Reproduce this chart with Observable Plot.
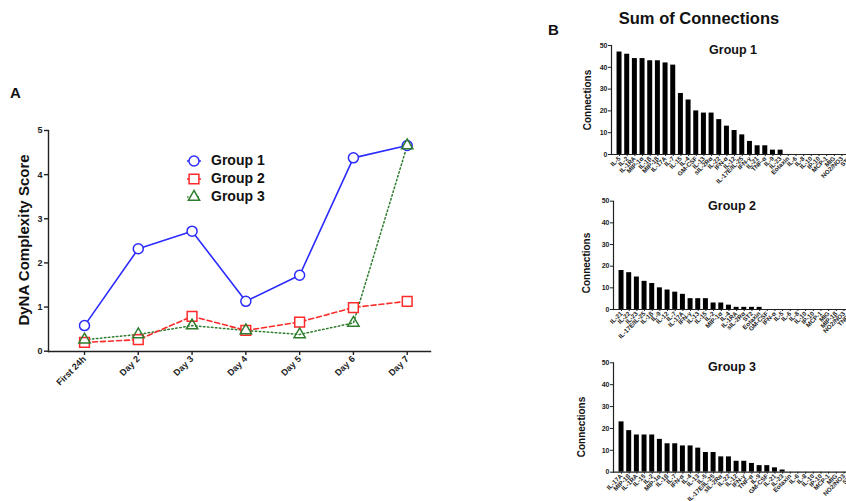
<!DOCTYPE html>
<html><head><meta charset="utf-8">
<script src="https://cdn.jsdelivr.net/npm/d3@7"></script>
<script src="https://cdn.jsdelivr.net/npm/@observablehq/plot@0.6"></script>
<style>
html,body{margin:0;padding:0;width:846px;height:501px;overflow:hidden;background:#fff;font-family:Arial,"Liberation Sans",sans-serif;}
#root{position:relative;width:846px;height:501px;overflow:hidden;}
.abs{position:absolute;white-space:nowrap;font-weight:bold;color:#111;}
.rot{transform:translate(-50%,-50%) rotate(-90deg);}
.ctr{transform:translate(-50%,-50%);}
#root svg{position:absolute;max-width:none;overflow:visible;}
</style></head><body>
<div id="root"></div>
<script>
// ---------- Panel A data ----------
const days = ["First 24h","Day 2","Day 3","Day 4","Day 5","Day 6","Day 7"];
const group1Score = [0.58,2.32,2.72,1.13,1.72,4.38,4.66];
const group2Score = [0.20,0.26,0.79,0.47,0.66,0.99,1.13];
const group3Score = [0.26,0.38,0.58,0.47,0.38,0.64,4.66];
const scoreTicks = [0,1,2,3,4,5];
const groupNames = ["Group 1","Group 2","Group 3"];

// ---------- Panel B data ----------
const g1Cytokines = ["IL-5","IL-2","IL-1RA","MIP-1α","IL-1β","MIP-1β","IL-17A","IL-7","IL-15","IL-4","GM-CSF","IL-13","sIL-2Rα","IL-22","IFN-α","IL-12","IL-17E/IL-25","IFN-γ","IL-21","TNF-α","IL-9","IL-23","Eotaxin","IL-6","IL-8","IL-10","IP-10","MCP-1","MIG","NO2/NO3","ST2"];
const g1Connections = [47,46,44,44,43,43,42,41,28,25,20,19,19,16,13,11,9,6,4,4,2,2,0,0,0,0,0,0,0,0,0];
const g2Cytokines = ["IL-21","IL-22","IL-23","IL-17E/IL-25","IL-1β","IL-9","IL-12","IL-7","IL-17A","IFN-γ","IL-13","IL-15","IL-2","MIP-1α","IL-4","IL-1RA","sIL-2Rα","ST2","Eotaxin","GM-CSF","IFN-α","IL-5","IL-6","IL-8","IL-10","IP-10","MCP-1","MIG","MIP-1β","NO2/NO3","TNF-α"];
const g2Connections = [18,17,15,13,12,10,9,8,7,5,5,5,3,3,2,1,1,1,1,0,0,0,0,0,0,0,0,0,0,0,0];
const g3Cytokines = ["IL-17A","MIP-1β","IL-1RA","IL-15","IL-2","MIP-1α","IL-1β","IL-7","IFN-α","IL-4","IL-13","IL-5","IL-17E/IL-25","sIL-2Rα","IL-22","IL-12","IFN-γ","TNF-α","IL-9","GM-CSF","IL-21","IL-23","Eotaxin","IL-6","IL-8","IL-10","IP-10","MCP-1","MIG","NO2/NO3","ST2"];
const g3Connections = [23,19,17,17,17,15,13,13,12,12,11,9,9,7,7,5,5,4,3,3,2,1,0,0,0,0,0,0,0,0,0];
const connTicks = [0,10,20,30,40,50];

const FONT = 'Arial, "Liberation Sans", sans-serif';
const BLUE = "#2b2bff", RED = "#ff2a2a", GREEN = "#2e7d2e";
const root = document.getElementById("root");

function addText(txt, x, y, size, cls) {
  const d = document.createElement("div");
  d.className = "abs " + (cls || "");
  d.style.left = x + "px"; d.style.top = y + "px"; d.style.fontSize = size + "px";
  d.textContent = txt;
  root.appendChild(d);
  return d;
}
function place(svg, left, top) {
  svg.style.left = left + "px"; svg.style.top = top + "px";
  root.appendChild(svg);
}

// ---------- Panel A ----------
const mk = (vals) => days.map((d, i) => ({day: d, v: vals[i]}));
const s1 = mk(group1Score), s2 = mk(group2Score), s3 = mk(group3Score);

const plotA = Plot.plot({
  width: 440, height: 300,
  marginLeft: 48, marginRight: 10, marginTop: 30, marginBottom: 49,
  x: {type: "point", domain: days, range: [84, 406.7], padding: 0, round: false},
  y: {domain: [0, 5], range: [250.7, 30]},
  style: {fontFamily: FONT, fontWeight: "bold", fontSize: "9px", background: "transparent", color: "#222"},
  marks: [
    Plot.frame({anchor: "left", stroke: "#222", strokeWidth: 1.4}),
    Plot.frame({anchor: "bottom", stroke: "#222", strokeWidth: 1.4}),
    Plot.axisY({ticks: scoreTicks, tickSize: 4, tickPadding: 2, tickFormat: d => String(d), label: null, strokeWidth: 1.4}),
    Plot.axisX({tickRotate: -45, tickSize: 4, tickPadding: 2, label: null, strokeWidth: 1.4}),
    Plot.line(s3, {x: "day", y: "v", stroke: GREEN, strokeWidth: 1.5, strokeDasharray: "1.5,2.5"}),
    Plot.line(s2, {x: "day", y: "v", stroke: RED, strokeWidth: 1.6, strokeDasharray: "5,3"}),
    Plot.line(s1, {x: "day", y: "v", stroke: BLUE, strokeWidth: 1.6}),
    Plot.dot(s1, {x: "day", y: "v", symbol: "circle", r: 5, stroke: BLUE, fill: "white", strokeWidth: 1.5}),
    Plot.dot(s2, {x: "day", y: "v", symbol: "square", r: 5.5, stroke: RED, fill: "white", strokeWidth: 1.5}),
    Plot.dot(s3, {x: "day", y: "v", symbol: "triangle", r: 4.2, stroke: GREEN, fill: "none", strokeWidth: 1.5})
  ]
});
place(plotA, 0, 100);

addText("A", 10, 84, 15);
addText("DyNA Complexity Score", 23, 240, 15, "rot");

// legend for panel A
const legendStyles = [
  {color: BLUE, dash: null, sym: d3.symbolCircle, size: 80},
  {color: RED, dash: "4,2", sym: d3.symbolSquare, size: 95},
  {color: GREEN, dash: "1.5,2", sym: d3.symbolTriangle, size: 55}
];
const legY = [160.7, 179, 197.3];
groupNames.forEach((g, i) => {
  const st = legendStyles[i];
  const svg = d3.create("svg").attr("width", 20).attr("height", 16);
  svg.append("line").attr("x1", 0).attr("x2", 14).attr("y1", 8).attr("y2", 8)
    .attr("stroke", st.color).attr("stroke-width", 1.5).attr("stroke-dasharray", st.dash);
  svg.append("path").attr("d", d3.symbol(st.sym, st.size)()).attr("transform", "translate(7,8)")
    .attr("fill", "white").attr("stroke", st.color).attr("stroke-width", 1.5);
  place(svg.node(), 187, legY[i] - 8);
  addText(g, 211, legY[i] - 9, 14);
});

// ---------- Panel B ----------
function barPanel(cats, vals, y0, y50) {
  const data = cats.map((c, i) => ({c, v: vals[i]}));
  return Plot.plot({
    width: 300, height: 160,
    marginLeft: 51, marginRight: 0, marginTop: y50, marginBottom: 160 - y0,
    x: {type: "band", domain: cats, range: [55.2, 293], paddingInner: 0.35, paddingOuter: 0.175, round: false},
    y: {domain: [0, 50], range: [y0, y50]},
    style: {fontFamily: FONT, fontWeight: "bold", background: "transparent", color: "#222"},
    marks: [
      Plot.barY(data, {x: "c", y: "v", fill: "#000"}),
      Plot.frame({anchor: "left", stroke: "#222", strokeWidth: 1.2}),
      Plot.frame({anchor: "bottom", stroke: "#222", strokeWidth: 1.2}),
      Plot.axisY({ticks: connTicks, tickSize: 3, tickPadding: 1, fontSize: 7, label: null}),
      Plot.axisX({tickRotate: -45, tickSize: 2, tickPadding: 1, fontSize: 6.3, label: null})
    ]
  });
}
place(barPanel(g1Cytokines, g1Connections, 124, 15), 560, 30);
place(barPanel(g2Cytokines, g2Connections, 119, 10.7), 562, 190);
place(barPanel(g3Cytokines, g3Connections, 121.7, 12.3), 562, 350);

addText("B", 548, 21, 15);
addText("Sum of Connections", 699, 18, 16.5, "ctr");
addText("Group 1", 733, 50, 12.5, "ctr");
addText("Group 2", 732, 206, 12.5, "ctr");
addText("Group 3", 732, 367, 12.5, "ctr");
addText("Connections", 587, 100, 10, "rot");
addText("Connections", 586, 263, 10, "rot");
addText("Connections", 581, 427, 10, "rot");
</script>
</body></html>
